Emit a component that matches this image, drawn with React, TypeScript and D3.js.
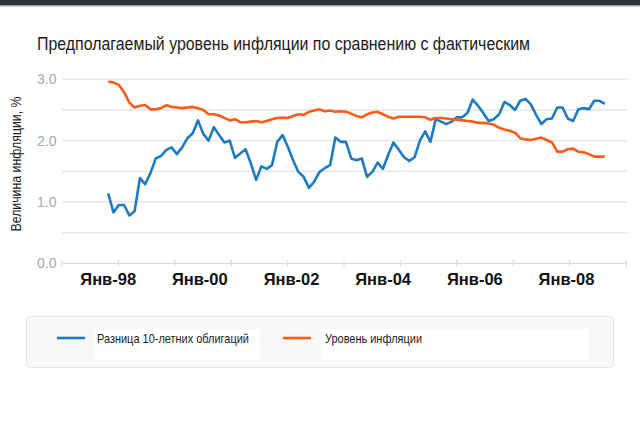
import React from 'react';
import * as d3 from 'd3';

const TITLE = 'Предполагаемый уровень инфляции по сравнению с фактическим';
const Y_TITLE = 'Величина инфляции, %';
const SERIES_NAMES = ['Разница 10-летних облигаций', 'Уровень инфляции'];
const SERIES_COLORS = ['#1f7bc0', '#fd5b14'];

const X_LABELS = ['Янв-98', 'Янв-00', 'Янв-02', 'Янв-04', 'Янв-06', 'Янв-08'];
const X_LABEL_YEARS = [1998, 2000, 2002, 2004, 2006, 2008];
const Y_GRID = [0, 0.5, 1, 1.5, 2, 2.5, 3];
const Y_LABELS = [0, 1, 2, 3];

// first and last observation (points are evenly spaced between them)
const DATA_START = new Date(1998, 0, 1);
const DATA_END = new Date(2008, 10, 1);

// breakeven spread of 10-year bonds
const spreadValues = [
  1.14, 0.83, 0.95, 0.95, 0.78, 0.85, 1.39, 1.29, 1.47, 1.71,
  1.75, 1.85, 1.89, 1.78, 1.89, 2.04, 2.12, 2.33, 2.11, 2.0,
  2.22, 2.09, 1.97, 2.0, 1.72, 1.79, 1.86, 1.63, 1.36, 1.58,
  1.54, 1.6, 1.98, 2.09, 1.9, 1.68, 1.49, 1.41, 1.23, 1.33,
  1.49, 1.55, 1.6, 2.05, 1.98, 1.98, 1.71, 1.68, 1.71, 1.41,
  1.49, 1.64, 1.54, 1.77, 1.97, 1.85, 1.73, 1.67, 1.73, 2.0,
  2.15, 1.98, 2.35, 2.31, 2.27, 2.31, 2.38, 2.38, 2.45, 2.67,
  2.57, 2.45, 2.32, 2.35, 2.43, 2.63, 2.58, 2.5, 2.65, 2.68,
  2.59, 2.42, 2.27, 2.35, 2.36, 2.54, 2.54, 2.36, 2.32, 2.51,
  2.53, 2.51, 2.65, 2.65, 2.6,
];

// actual inflation
const inflationValues = [
  2.96, 2.95, 2.91, 2.79, 2.62, 2.54, 2.57, 2.58, 2.51, 2.51,
  2.53, 2.58, 2.55, 2.54, 2.53, 2.54, 2.55, 2.53, 2.5, 2.43,
  2.43, 2.41, 2.37, 2.33, 2.35, 2.3, 2.3, 2.31, 2.32, 2.3,
  2.32, 2.35, 2.37, 2.375, 2.37, 2.4, 2.43, 2.42, 2.47, 2.49,
  2.51, 2.48, 2.49, 2.47, 2.48, 2.47, 2.44, 2.4, 2.38, 2.43,
  2.46, 2.47, 2.43, 2.39, 2.36, 2.39, 2.39, 2.39, 2.39, 2.39,
  2.38, 2.34, 2.37, 2.37, 2.36, 2.35, 2.34, 2.33, 2.32, 2.31,
  2.29, 2.29, 2.28, 2.26, 2.21, 2.18, 2.16, 2.13, 2.04, 2.02,
  2.01, 2.03, 2.05, 2.01, 1.97, 1.82, 1.82, 1.86, 1.87, 1.82,
  1.81, 1.78, 1.74, 1.74, 1.74,
];

const SANS = "'Liberation Sans', Arial, sans-serif";

const App = () => {
  const width = 640;
  const height = 428;
  const plot = { left: 62, right: 627, top: 79.3, bottom: 263.3 };

  const x = d3
    .scaleTime()
    .domain([new Date(1998, 0, 1), new Date(2008, 0, 1)])
    .range([108.2, 566.5]);
  const y = d3.scaleLinear().domain([0, 3]).range([plot.bottom, plot.top]);

  const n = spreadValues.length;
  const dateAt = d3.scaleLinear<Date, Date>().domain([0, n - 1]).range([DATA_START, DATA_END] as any);

  const series = [spreadValues, inflationValues];
  const line = d3
    .line<number>()
    .x((_, i) => x(dateAt(i) as any))
    .y((v) => y(v));

  // axis tick marks spread evenly along the plot width
  const tickScale = d3.scaleLinear().domain([0, 10]).range([plot.left, plot.right - 1]);
  const tickMarks = d3.range(11).map((k) => tickScale(k));

  return (
    <svg
      width={width}
      height={height}
      style={{ position: 'absolute', left: 0, top: 0, background: '#fff', display: 'block' }}
    >
      <rect x={0} y={0} width={width} height={5} fill='#2f3337' />
      <rect x={0} y={5} width={width} height={1.5} fill='#9a9c9e' />

      <text
        x={37}
        y={50}
        fontFamily={SANS}
        fontSize={17.5}
        fill='#1a1a1a'
        textLength={493}
        lengthAdjust='spacingAndGlyphs'
      >
        {TITLE}
      </text>

      {/* grid */}
      {Y_GRID.map((v) => (
        <line
          key={v}
          x1={plot.left}
          x2={plot.right}
          y1={y(v)}
          y2={y(v)}
          stroke={v === 0 ? '#dcdcdc' : '#e9e9e9'}
          strokeWidth={v === 0 ? 1.2 : 1.8}
        />
      ))}
      {tickMarks.map((t, i) => (
        <line key={i} x1={t} x2={t} y1={plot.bottom - 3.5} y2={plot.bottom + 3.5} stroke='#dcdcdc' strokeWidth={1.2} />
      ))}

      {Y_LABELS.map((v) => (
        <text
          key={v}
          x={56.5}
          y={y(v)}
          dy='0.35em'
          textAnchor='end'
          fontFamily={SANS}
          fontSize={14}
          fill='#a4a8b0'
        >
          {v.toFixed(1)}
        </text>
      ))}

      <text
        transform={`translate(20.5,164) rotate(-90)`}
        textAnchor='middle'
        fontFamily={SANS}
        fontSize={14}
        fill='#1a1a1a'
        textLength={135}
        lengthAdjust='spacingAndGlyphs'
      >
        {Y_TITLE}
      </text>

      {X_LABELS.map((lab, i) => (
        <text
          key={lab}
          x={x(new Date(X_LABEL_YEARS[i], 0, 1))}
          y={284.5}
          textAnchor='middle'
          fontFamily={SANS}
          fontWeight='bold'
          fontSize={16.5}
          fill='#111'
        >
          {lab}
        </text>
      ))}

      {series.map((values, i) => (
        <path
          key={i}
          d={line(values) || ''}
          fill='none'
          stroke={SERIES_COLORS[i]}
          strokeWidth={2.6}
          strokeLinejoin='round'
        />
      ))}

      {/* legend */}
      <rect x={26.5} y={316.5} width={587} height={51} rx={3} fill='#f8f8f8' stroke='#e3e3e3' />
      <rect x={94} y={329} width={166} height={31} fill='#fff' />
      <rect x={322} y={329} width={267} height={31} fill='#fff' />
      {SERIES_NAMES.map((name, i) => {
        const lx = i === 0 ? 57 : 283;
        const tx = i === 0 ? 97 : 325;
        return (
          <g key={name}>
            <line x1={lx} x2={lx + 28} y1={338} y2={338} stroke={SERIES_COLORS[i]} strokeWidth={2.6} />
            <text
              x={tx}
              y={338}
              dy='0.35em'
              fontFamily={SANS}
              fontSize={13}
              fill='#1a1a1a'
              textLength={i === 0 ? 152 : 97}
              lengthAdjust='spacingAndGlyphs'
            >
              {name}
            </text>
          </g>
        );
      })}
    </svg>
  );
};

export default App;
